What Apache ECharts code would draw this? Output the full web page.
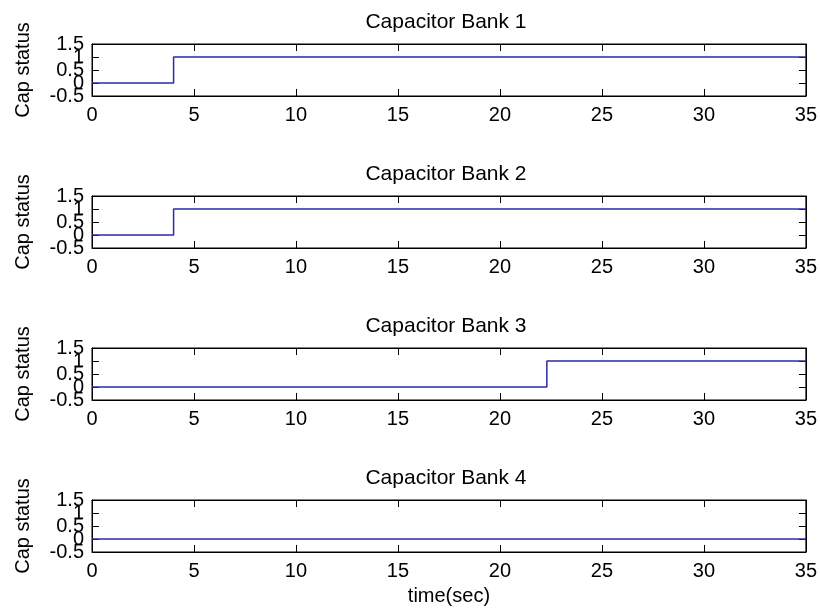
<!DOCTYPE html>
<html>
<head>
<meta charset="utf-8">
<script src="https://cdn.jsdelivr.net/npm/echarts@6/dist/echarts.min.js"></script>
<style>
  html, body { margin: 0; padding: 0; background: #fff; }
  #chart { width: 820px; height: 615px; }
</style>
</head>
<body>
<div id="chart"></div>
<script>
// Switching status of four capacitor banks over time
const bankTitles = ['Capacitor Bank 1', 'Capacitor Bank 2', 'Capacitor Bank 3', 'Capacitor Bank 4'];
const bank1Time = [0, 4, 35];
const bank1Status = [0, 1, 1];
const bank2Time = [0, 4, 35];
const bank2Status = [0, 1, 1];
const bank3Time = [0, 22.3, 35];
const bank3Status = [0, 1, 1];
const bank4Time = [0, 35];
const bank4Status = [0, 0];
const xTicks = [0, 5, 10, 15, 20, 25, 30, 35];
const yTicks = [-0.5, 0, 0.5, 1, 1.5];
// tick labels are drawn in two interleaved sets so the crowded ones all stay visible
const yLabelsOdd = [-0.5, 0.5, 1.5];
const yLabelsEven = [0, 1];

const banks = [
  [bank1Time, bank1Status],
  [bank2Time, bank2Status],
  [bank3Time, bank3Status],
  [bank4Time, bank4Status]
];

const FONT = '"Liberation Sans", Arial, sans-serif';
const LINE = '#2a2aa6';
const tops = [44, 196, 348, 500];
const boxH = 52;

const grids = [], xAxes = [], yAxes = [], series = [], titles = [];

banks.forEach(([t, s], i) => {
  grids.push({ left: 92, right: 14, top: tops[i], height: boxH, show: true, borderColor: '#000', borderWidth: 1, containLabel: false });
  const xBase = {
    gridIndex: i, type: 'value', min: xTicks[0], max: xTicks[xTicks.length - 1], interval: xTicks[1] - xTicks[0],
    axisLine: { show: true, onZero: false, lineStyle: { color: '#000', width: 1 } },
    axisTick: { show: true, inside: true, length: 7, lineStyle: { color: '#000' } },
    splitLine: { show: false }
  };
  xAxes.push(Object.assign({}, xBase, {
    position: 'bottom',
    axisLabel: { show: true, color: '#000', fontSize: 20, fontFamily: FONT, margin: 9, showMinLabel: true, showMaxLabel: true },
    name: i === 3 ? 'time(sec)' : '', nameLocation: 'middle', nameGap: 34,
    nameTextStyle: { color: '#000', fontSize: 20, fontFamily: FONT }
  }));
  xAxes.push(Object.assign({}, xBase, { position: 'top', axisLabel: { show: false } }));
  const yBase = {
    gridIndex: i, type: 'value', min: yTicks[0], max: yTicks[yTicks.length - 1], interval: yTicks[1] - yTicks[0],
    axisLine: { show: true, onZero: false, lineStyle: { color: '#000', width: 1 } },
    axisTick: { show: true, inside: true, length: 7, lineStyle: { color: '#000' } },
    splitLine: { show: false }
  };
  const labelStyle = { show: true, color: '#000', fontSize: 20, fontFamily: FONT, margin: 8, showMinLabel: true, showMaxLabel: true, hideOverlap: false };
  yAxes.push(Object.assign({}, yBase, {
    position: 'left',
    axisLabel: Object.assign({}, labelStyle, { customValues: yLabelsOdd }),
    name: 'Cap status', nameLocation: 'middle', nameGap: 59, nameRotate: 90,
    nameTextStyle: { color: '#000', fontSize: 20, fontFamily: FONT }
  }));
  yAxes.push(Object.assign({}, yBase, {
    position: 'left',
    axisLine: { show: false, onZero: false },
    axisTick: { show: false },
    axisLabel: Object.assign({}, labelStyle, { customValues: yLabelsEven })
  }));
  yAxes.push(Object.assign({}, yBase, { position: 'right', axisLabel: { show: false } }));
  series.push({
    type: 'line', step: 'end', xAxisIndex: 2 * i, yAxisIndex: 3 * i,
    data: t.map((v, k) => [v, s[k]]),
    showSymbol: false, symbol: 'none',
    lineStyle: { color: LINE, width: 1.5 },
    animation: false
  });
  titles.push({
    text: bankTitles[i], left: 441, top: tops[i] - 37, textAlign: 'center',
    textStyle: { color: '#000', fontSize: 21, fontWeight: 'normal', fontFamily: FONT }
  });
});

const chart = echarts.init(document.getElementById('chart'), null, { renderer: 'canvas' });
chart.setOption({
  backgroundColor: '#fff',
  animation: false,
  title: titles,
  grid: grids,
  xAxis: xAxes,
  yAxis: yAxes,
  series: series
});
</script>
</body>
</html>
